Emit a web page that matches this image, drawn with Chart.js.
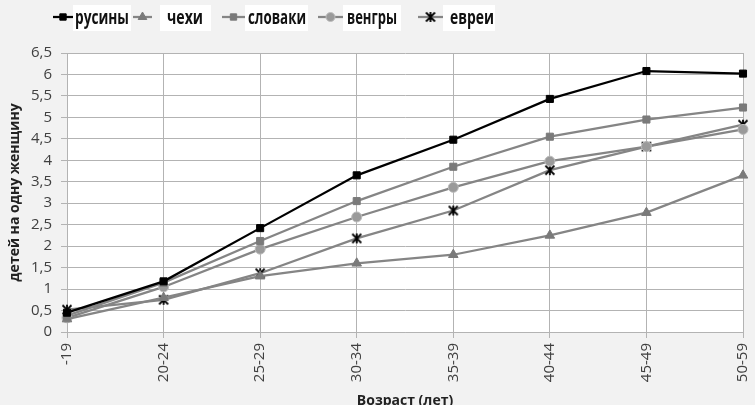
<!DOCTYPE html>
<html>
<head>
<meta charset="utf-8">
<script src="https://cdn.jsdelivr.net/npm/chart.js@4/dist/chart.umd.min.js"></script>
<style>
  html, body { margin: 0; padding: 0; background: #f2f2f2; }
  #wrap { width: 755px; height: 405px; position: relative; }
</style>
</head>
<body>
<div id="wrap"><canvas id="chart" width="755" height="405"></canvas></div>
<script>
// Données
const categories = ['-19', '20-24', '25-29', '30-34', '35-39', '40-44', '45-49', '50-59'];
const rusiny   = [0.45, 1.18, 2.42, 3.65, 4.48, 5.43, 6.08, 6.02];
const chekhi   = [0.30, 0.80, 1.30, 1.60, 1.80, 2.25, 2.78, 3.65];
const slovaki  = [0.38, 1.15, 2.12, 3.05, 3.85, 4.55, 4.95, 5.23];
const vengry   = [0.33, 1.05, 1.93, 2.68, 3.37, 3.98, 4.32, 4.72];
const evrei    = [0.52, 0.75, 1.37, 2.18, 2.83, 3.77, 4.32, 4.83];
const yTicks   = [0, 0.5, 1, 1.5, 2, 2.5, 3, 3.5, 4, 4.5, 5, 5.5, 6, 6.5];

const font = "'Open Sans', sans-serif";

// Marqueur "étoile" façon Excel : X + trait vertical
function starImg(size) {
    const c = document.createElement('canvas');
    c.width = size; c.height = size;
    const g = c.getContext('2d');
    g.strokeStyle = '#000';
    g.lineWidth = 1.8;
    const m = 1.5, s = size - 1.5;
    g.beginPath();
    g.moveTo(m, m); g.lineTo(s, s);
    g.moveTo(s, m); g.lineTo(m, s);
    g.moveTo(size / 2, m - 0.5); g.lineTo(size / 2, s + 0.5);
    g.stroke();
    return c;
}
const star = starImg(12);

function ds(label, data, line, marker, style, radius, border) {
    return {
        label, data,
        borderColor: line,
        borderWidth: 2.25,
        pointStyle: style,
        pointRadius: radius,
        pointBackgroundColor: marker,
        pointBorderColor: border || marker,
        pointBorderWidth: 1,
        tension: 0
    };
}

const datasets = [
    ds('русины', rusiny, '#000000', '#000000', 'rect', 5),
    ds('чехи', chekhi, '#858585', '#7a7a7a', 'triangle', 5.5),
    ds('словаки', slovaki, '#858585', '#7a7a7a', 'rect', 5),
    ds('венгры', vengry, '#858585', '#9a9a9a', 'circle', 5, '#bcbcbc'),
    ds('евреи', evrei, '#858585', '#000000', star, 6, '#000000')
];

// Légende dessinée à la main (fond blanc derrière le texte)
const legendPos = [
    { line: [53, 73], box: [73, 131], text: [75, 129] },
    { line: [133, 152], box: [160, 211], text: [167, 203] },
    { line: [222, 245], box: [245, 308], text: [248, 306] },
    { line: [318, 343], box: [343, 401], text: [347, 397] },
    { line: [418, 443], box: [443, 495], text: [450, 494] }
];

const plotBg = {
    id: 'plotBg',
    beforeDraw(c) {
        const a = c.chartArea, ctx = c.ctx;
        ctx.save();
        ctx.fillStyle = '#ffffff';
        ctx.fillRect(a.left, a.top, a.right - a.left, a.bottom - a.top);
        ctx.restore();
    },
    afterDraw(c) {
        const ctx = c.ctx;
        ctx.save();
        const y = 17;
        datasets.forEach((d, i) => {
            const p = legendPos[i];
            ctx.fillStyle = '#ffffff';
            ctx.fillRect(p.box[0], 5, p.box[1] - p.box[0], 26);
            ctx.strokeStyle = d.borderColor;
            ctx.lineWidth = 2.25;
            ctx.beginPath();
            ctx.moveTo(p.line[0], y);
            ctx.lineTo(p.line[1], y);
            ctx.stroke();
            ctx.fillStyle = d.pointBackgroundColor;
            ctx.strokeStyle = d.pointBorderColor;
            ctx.lineWidth = d.pointBorderWidth;
            Chart.helpers.drawPoint(ctx, {
                pointStyle: d.pointStyle,
                radius: d.pointRadius - 0.5,
                rotation: 0,
                borderWidth: d.pointBorderWidth
            }, (p.line[0] + p.line[1]) / 2, y);
            ctx.fillStyle = '#111111';
            ctx.font = "bold 20px 'Open Sans', sans-serif";
            ctx.textBaseline = 'middle';
            ctx.textAlign = 'left';
            ctx.fillText(d.label, p.text[0], y + 1, p.text[1] - p.text[0]);
        });
        ctx.restore();
    }
};

new Chart(document.getElementById('chart'), {
    type: 'line',
    data: { labels: categories, datasets },
    options: {
        responsive: false,
        animation: false,
        layout: { padding: { top: 53, right: 12, left: 0, bottom: 0 } },
        plugins: {
            legend: { display: false },
            tooltip: { enabled: false }
        },
        scales: {
            x: {
                offset: false,
                grid: { color: '#b3b3b3', lineWidth: 1, tickLength: 6 },
                border: { color: '#b3b3b3' },
                ticks: {
                    minRotation: 90, maxRotation: 90,
                    color: '#404040', padding: 5,
                    font: { family: font, size: 15 }
                },
                title: {
                    display: true, text: 'Возраст (лет)', color: '#222',
                    padding: { top: 0, bottom: -4 },
                    font: { family: font, size: 14, weight: 'bold' }
                },
                afterFit(s) { s.height = 73; s.paddingLeft = 0; s.paddingRight = 0; }
            },
            y: {
                min: 0, max: 6.5,
                afterBuildTicks(s) { s.ticks = yTicks.map(v => ({ value: v })); },
                grid: { color: '#b3b3b3', lineWidth: 1, tickLength: 6 },
                border: { color: '#b3b3b3' },
                ticks: {
                    color: '#404040', padding: 9,
                    font: { family: font, size: 15 },
                    callback: v => String(v).replace('.', ',')
                },
                title: {
                    display: true, text: 'детей на одну женщину', color: '#222',
                    padding: { top: 7, bottom: 0 },
                    font: { family: font, size: 14, weight: 'bold' }
                },
                afterFit(s) { s.width = 67; }
            }
        }
    },
    plugins: [plotBg]
});
</script>
</body>
</html>
